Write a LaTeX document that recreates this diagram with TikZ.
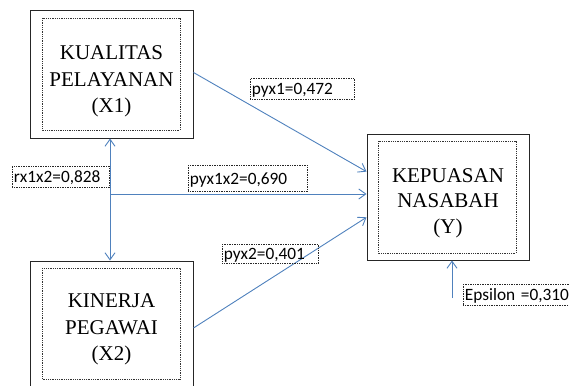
\documentclass[tikz,border=0pt]{standalone}
\usepackage{fontspec}
\setmainfont{Liberation Serif}
\newfontfamily\lbfont{Carlito}
\usetikzlibrary{arrows.meta,calc}
\definecolor{arrowblue}{RGB}{79,129,189}
\tikzset{
  outerbox/.style={draw=black!85, line width=1pt, minimum width=163pt, inner sep=0pt},
  innerbox/.style={draw=black!80, densely dotted, line width=0.8pt},
  boxtext/.style={font=\fontsize{21}{26.5}\selectfont, align=center, inner sep=0pt},
  conn/.style={draw=arrowblue, line width=0.9pt, -{Straight Barb[length=7pt,width=10pt,line width=0.9pt]}},
  biconn/.style={draw=arrowblue, line width=0.9pt, {Straight Barb[length=7pt,width=10pt,line width=0.9pt]}-{Straight Barb[length=7pt,width=10pt,line width=0.9pt]}},
  lbl/.style={draw=black!85, densely dotted, line width=0.7pt, font=\lbfont\fontsize{17.3}{18}\selectfont, inner xsep=1.5pt, inner ysep=0pt, anchor=north west, align=left, text depth=0pt}
}
\begin{document}
\begin{tikzpicture}[x=1pt,y=-1pt]
\useasboundingbox (0,0) rectangle (569,385);
% boxes
\node[outerbox, minimum height=127pt] (x1) at (111.5,74.5) {};
\draw[innerbox] (42,18) rectangle (180,130);
\node[boxtext] (x1t) at (111.5,81.5) {KUALITAS\\PELAYANAN\\(X1)};

\node[outerbox, minimum height=126pt] (x2) at (111.5,324) {};
\draw[innerbox] (42,268) rectangle (180,379);
\node[boxtext] (x2t) at (111.5,329.5) {KINERJA\\PEGAWAI\\(X2)};

\node[outerbox, minimum width=162pt, minimum height=126pt] (y) at (448,197) {};
\draw[innerbox] (378,141) rectangle (516,253);
\node[boxtext, font=\fontsize{21}{25.5}\selectfont] (yt) at (448,203) {KEPUASAN\\NASABAH\\(Y)};

% connectors
\coordinate (j) at (110,194);
\coordinate (e) at (452,298);
\draw[conn] ($(x1.east)+(0,-2)$) -- ($(y.north west)!0.3!(y.south west)$);
\draw[conn] (j) -- (j -| y.west);
\draw[conn] ($(x2.east)+(0,4)$) -- ($(y.north west)!0.66!(y.south west)$);
\draw[biconn] (j |- x1.south) -- (j |- x2.north);
\draw[conn] (e) -- (e |- y.south);

% labels
\node[lbl, text width=101pt, minimum height=21pt] (l1) at (250,78) {pyx1=0,472};
\node[lbl, text width=94pt, minimum height=21pt] (l2) at (12,166) {rx1x2=0,828};
\node[lbl, text width=116pt, minimum height=26pt] (l3) at (188,165) {pyx1x2=0,690};
\node[lbl, text width=93pt, minimum height=19pt] (l4) at (222,244) {pyx2=0,401};
\node[lbl, text width=115pt, minimum height=21pt] (l5) at (463,284) {Epsilon =0,310};
\end{tikzpicture}
\end{document}
